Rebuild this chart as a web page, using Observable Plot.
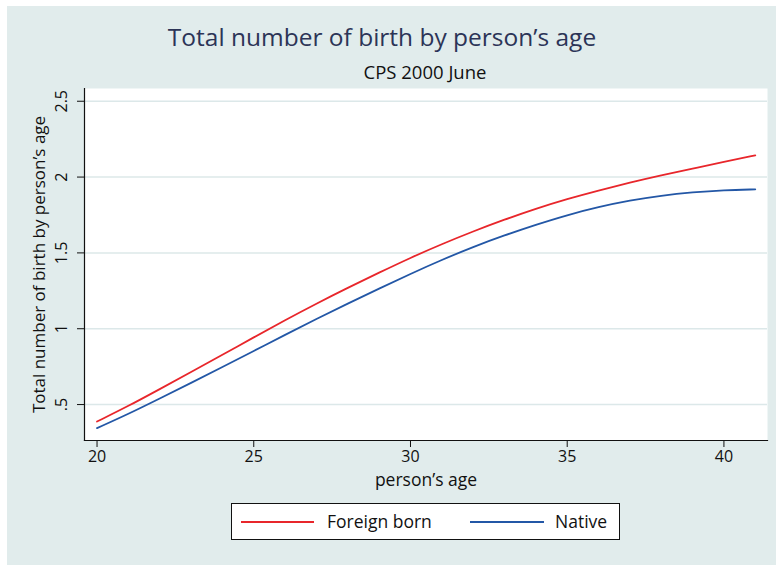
<!DOCTYPE html>
<html>
<head>
<meta charset="utf-8">
<script src="https://cdn.jsdelivr.net/npm/d3@7"></script>
<script src="https://cdn.jsdelivr.net/npm/@observablehq/plot@0.6"></script>
<style>
  html, body { margin: 0; padding: 0; background: #ffffff; }
  body { width: 776px; height: 565px; position: relative; overflow: hidden; font-family: "Open Sans", Lato, sans-serif; }
  #bg { position: absolute; left: 7px; top: 6px; width: 769px; height: 559px; background: #e1ecec; }
  .txt { position: absolute; white-space: nowrap; line-height: 1; }
  #title { font-size: 24.5px; color: #2c3457; }
  #subtitle { font-size: 18.5px; color: #111; }
  #chart { position: absolute; left: 0; top: 0; }
  #legend { position: absolute; left: 231px; top: 503px; width: 387px; height: 35px; background: #fff; border: 1px solid #111; }
  .lgline { position: absolute; height: 0; border-top: 2px solid; }
  .lgtext { position: absolute; font-size: 17.5px; line-height: 1; color: #111; white-space: nowrap; }
</style>
</head>
<body>
<div id="bg"></div>
<div id="chart"></div>
<div id="title" class="txt"></div>
<div id="subtitle" class="txt"></div>
<div id="legend"></div>
<script>
// ---- Data ----
const titleText = "Total number of birth by person’s age";
const subtitleText = "CPS 2000 June";
const xTitle = "person’s age";
const yTitle = "Total number of birth by person’s age";
const seriesNames = ["Foreign born", "Native"];
const seriesColors = ["#e8262b", "#2357a6"];
const ages = [20, 21, 22, 23, 24, 25, 26, 27, 28, 29, 30, 31, 32, 33, 34, 35, 36, 37, 38, 39, 40, 41];
const foreignBorn = [0.388, 0.49, 0.602, 0.714, 0.828, 0.943, 1.057, 1.166, 1.270, 1.370, 1.468, 1.558, 1.642, 1.720, 1.792, 1.856, 1.912, 1.964, 2.012, 2.056, 2.100, 2.143];
const native = [0.345, 0.438, 0.540, 0.643, 0.747, 0.853, 0.960, 1.065, 1.166, 1.265, 1.362, 1.454, 1.540, 1.616, 1.686, 1.750, 1.803, 1.846, 1.878, 1.900, 1.914, 1.919];
const xTicks = [20, 25, 30, 35, 40];
const yTicks = [0.5, 1, 1.5, 2, 2.5];
const yTickLabels = [".5", "1", "1.5", "2", "2.5"];

// ---- Build table ----
const data = [];
ages.forEach((a, i) => {
  data.push({age: a, value: foreignBorn[i], series: seriesNames[0]});
  data.push({age: a, value: native[i], series: seriesNames[1]});
});

// ---- Titles ----
const ttl = document.getElementById("title");
ttl.textContent = titleText;
const sub = document.getElementById("subtitle");
sub.textContent = subtitleText;

function placeCentered(el, cx, baseline, fs) {
  const w = el.getBoundingClientRect().width;
  el.style.left = (cx - w / 2) + "px";
  el.style.top = (baseline - 0.93 * fs) + "px";
}

// ---- Chart ----
const chart = Plot.plot({
  width: 776,
  height: 500,
  marginLeft: 84,
  marginRight: 9,
  marginTop: 88,
  marginBottom: 60,
  style: {background: "transparent", fontFamily: "'Open Sans', Lato, sans-serif", fontSize: "16px", color: "#111", overflow: "visible"},
  x: {domain: [19.6, 41.39]},
  y: {domain: [0.263, 2.584]},
  color: {domain: seriesNames, range: seriesColors},
  marks: [
    Plot.frame({fill: "#ffffff", stroke: "none"}),
    Plot.gridY(yTicks, {stroke: "#dce8e9", strokeOpacity: 1, strokeWidth: 1.5}),
    Plot.axisY(yTicks, {tickSize: 7, tickFormat: () => "", label: null, stroke: "#111", strokeOpacity: 1}),
    Plot.text(yTicks, {frameAnchor: "left", y: d => d, text: d => yTickLabels[yTicks.indexOf(d)], rotate: -90, dx: -22.5, lineAnchor: "middle", textAnchor: "middle", fontSize: 16, fill: "#111"}),
    Plot.axisX(xTicks, {tickSize: 7, tickPadding: 3, label: null, stroke: "#111", strokeOpacity: 1, fontSize: 16}),
    Plot.frame({anchor: "left", stroke: "#111", strokeWidth: 1.2}),
    Plot.frame({anchor: "bottom", stroke: "#111", strokeWidth: 1.2}),
    Plot.text([yTitle], {frameAnchor: "left", rotate: -90, dx: -45, lineAnchor: "middle", textAnchor: "middle", fontSize: 17, fill: "#111"}),
    Plot.text([xTitle], {frameAnchor: "bottom", dy: 40, lineAnchor: "middle", textAnchor: "middle", fontSize: 17.5, fill: "#111"}),
    Plot.line(data, {x: "age", y: "value", z: "series", stroke: "series", strokeWidth: 1.8, curve: "basis"})
  ]
});
document.getElementById("chart").appendChild(chart);

placeCentered(ttl, 382, 48, 24.5);
placeCentered(sub, 425, 80, 18.5);

// ---- Legend ----
const lg = document.getElementById("legend");
const lgItems = [
  {lineLeft: 9, lineWidth: 73, textLeft: 95},
  {lineLeft: 238, lineWidth: 74, textLeft: 323}
];
seriesNames.forEach((name, i) => {
  const ln = document.createElement("div");
  ln.className = "lgline";
  ln.style.left = lgItems[i].lineLeft + "px";
  ln.style.width = lgItems[i].lineWidth + "px";
  ln.style.top = "16.5px";
  ln.style.borderTopColor = seriesColors[i];
  lg.appendChild(ln);
  const tx = document.createElement("div");
  tx.className = "lgtext";
  tx.textContent = name;
  tx.style.left = lgItems[i].textLeft + "px";
  tx.style.top = (25 - 0.93 * 17.5) + "px";
  lg.appendChild(tx);
});
</script>
</body>
</html>
